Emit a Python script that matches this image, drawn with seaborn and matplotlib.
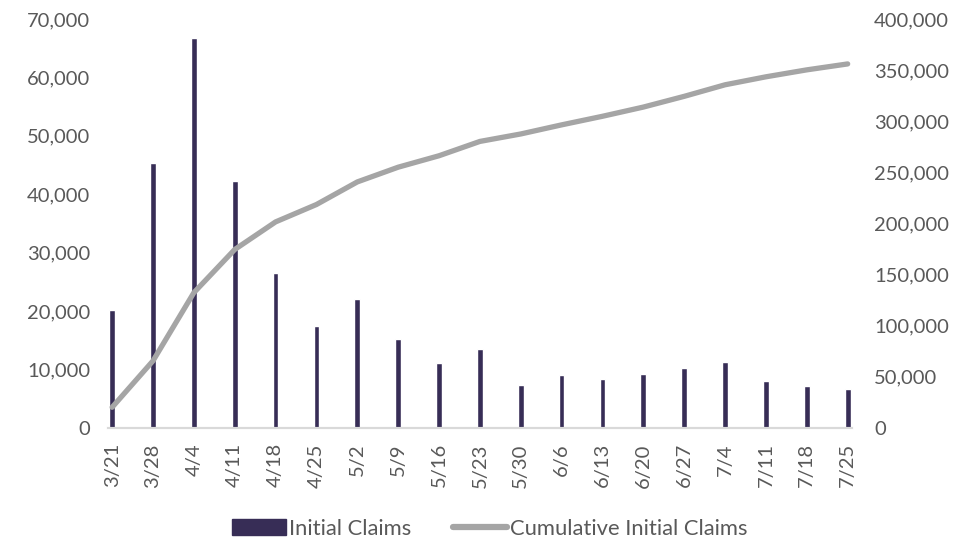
import matplotlib
matplotlib.use('Agg')
import matplotlib.pyplot as plt
from matplotlib.patches import Patch
from matplotlib.lines import Line2D
from matplotlib.ticker import FuncFormatter, MultipleLocator
import pandas as pd
import seaborn as sns

weeks = ['3/21', '3/28', '4/4', '4/11', '4/18', '4/25', '5/2', '5/9', '5/16', '5/23',
         '5/30', '6/6', '6/13', '6/20', '6/27', '7/4', '7/11', '7/18', '7/25']
initial_claims = [20200, 45400, 66700, 42200, 26600, 17500, 22000, 15200, 11100, 13500,
                  7400, 9000, 8300, 9200, 10300, 11200, 8000, 7200, 6700]
cumulative_claims = [20200, 65600, 132300, 174500, 201500, 218500, 240600, 255000, 266200, 280200,
                     287500, 296400, 304800, 313800, 324300, 335600, 343400, 350200, 356000]

bar_color = '#372d56'
line_color = '#a5a5a5'
text_color = '#595959'

sns.set_style('white')
plt.rcParams['font.family'] = ['Lato', 'DejaVu Sans']

df = pd.DataFrame({'week': weeks, 'claims': initial_claims, 'cumulative': cumulative_claims})

fig = plt.figure(figsize=(9.69, 5.41), dpi=100)
ax = fig.add_axes([0.1115, 0.209, 0.7675, 0.756])

sns.barplot(data=df, x='week', y='claims', color=bar_color, width=0.14,
            saturation=1, ax=ax)
ax2 = ax.twinx()
sns.lineplot(data=df, x='week', y='cumulative', color=line_color, linewidth=3.8,
             sort=False, ax=ax2, solid_capstyle='round')

ax.set_xlim(-0.1, len(weeks) - 0.9)
ax.set_ylim(0, 70000)
ax2.set_ylim(0, 400000)
ax.yaxis.set_major_locator(MultipleLocator(10000))
ax2.yaxis.set_major_locator(MultipleLocator(50000))
fmt = FuncFormatter(lambda v, p: f'{int(v):,}')
ax.yaxis.set_major_formatter(fmt)
ax2.yaxis.set_major_formatter(fmt)

for a in (ax, ax2):
    for s in ['top', 'left', 'right']:
        a.spines[s].set_visible(False)
    a.spines['bottom'].set_color('#d9d9d9')
    a.spines['bottom'].set_linewidth(1.5)
    a.set_xlabel('')
    a.set_ylabel('')
ax.tick_params(axis='y', length=0, labelsize=14.5, colors=text_color, pad=13)
ax2.tick_params(axis='y', length=0, labelsize=14.5, colors=text_color, pad=16)

ax.tick_params(axis='x', length=5, width=1.2, color='#d9d9d9', labelsize=14.5,
               labelcolor=text_color, labelrotation=90, pad=6)
ax.set_xticks(range(len(weeks)))
ax.set_xticklabels(weeks)

handles = [Patch(facecolor=bar_color, edgecolor=bar_color),
           Line2D([0], [0], color=line_color, linewidth=4.5, solid_capstyle='round')]
fig.legend(handles, ['Initial Claims', 'Cumulative Initial Claims'], loc='center',
           bbox_to_anchor=(0.505, 0.022), ncol=2, frameon=False, fontsize=15.8,
           handlelength=2.5, handleheight=0.75, handletextpad=0.1, columnspacing=1.9,
           labelcolor=text_color)

fig.savefig('out.png', dpi=100)
